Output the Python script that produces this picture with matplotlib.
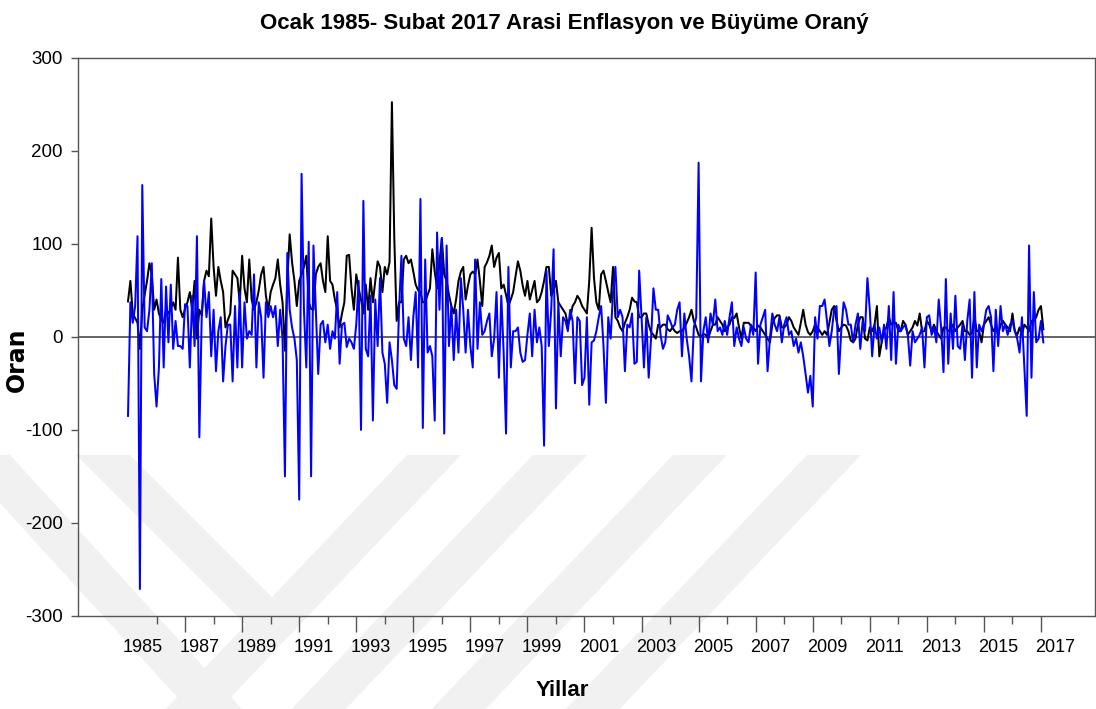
import numpy as np
import matplotlib
matplotlib.use("Agg")
import matplotlib.pyplot as plt
import matplotlib.transforms as mtransforms
from matplotlib.patches import Polygon

# ---------------- data (monthly, Jan 1985 - Feb 2017) ----------------
start_year = 1985
title = "Ocak 1985- Subat 2017 Arasi Enflasyon ve Büyüme Oraný"
xlabel = "Yillar"
ylabel = "Oran"
year_labels = list(range(1985, 2018, 2))
y_ticks = [-300, -200, -100, 0, 100, 200, 300]

# Enflasyon (black)
infl_a = [38, 60, 25, 20, 15, -13, 29, 45, 60, 79, 67, 29,
          40, 25, 18, 15, 29, 25, 30, 37, 29, 85, 29, 21,
          30, 37, 48, 29, 60, -2, 29, 23, 60, 71, 65, 127,
          75, 44, 75, 60, 48, 10, 18, 25, 71, 67, 63, 37,
          87, 52, 37, 83, 40, 29, 37, 50, 67, 75, 44, 29,
          48, 56, 63, 83]
infl_b = [56, 37, -15, 60, 110, 80, 60, 33, 60, 67, 75, 87,
          37, 30, 29, 67, 75, 79, 60, 48, 108, 60, 56, 40,
          29, 10, 25, 37, 87, 88, 52, 29, 67, 52, 40, 25,
          56, 29, 63, 37, 60, 81, 75, 48, 75, 67, 80, 252,
          106, 17, 37, 37, 83, 87, 79, 83, 70, 56, 50, 48,
          37, 37, 45, 52, 94, 70, 52, 80, 106, 67, 60, 45,
          33, 25, 40, 60, 70, 75, 40, 55, 67, 70, 67, 83]
infl_c = [60, 33, 75, 80, 87, 98, 75, 85, 90, 52, 56, 45,
          33, 40, 48, 65, 81, 71, 55, 44, 60, 40, 50, 60,
          37, 40, 48, 60, 75, 75, 44, 50, 60, 37, 33, 29,
          25, 13, 20, 33, 37, 44, 40, 33, 29, 25, 60, 117,
          63, 37, 29, 67, 71, 60, 48, 37, 75, 21, 17, 10,
          6, 15, 21, 29, 42, 38, 37, 21]
infl_d = [21, 25, 25, 13, 5, 2, -2, 13, 10, 13, 13, 8,
          6, 10, 6, 4, 6, 6, 10, 15, 21, 29, 17, 10,
          2, 0, 3, 2, -2, 6, 13, 13, 21, 17, 13, 6,
          10, 13, 21, 20, 25, 10, -2, 15, 15, 15, 12, 10,
          6, 12, 10, 6, 2, -2, -6, 13, 20, 23, 23, 10,
          10, 13, 21, 17, 10, 6, 2, 15, 29, 13, 5, 2,
          6, 13, 10, 6]
infl_e = [2, 6, 2, 15, 29, 33, 17, 6, 10, 13, 12, 6,
          -4, -6, -2, 13, 21, 21, -2, -4, 10, 6, 13, 33,
          -21, -6, 6, 10, 21, 13, 15, 15, 6, 6, 17, 13,
          2, 6, 10, 17, 12, 25, 6, 6, 17, 13, 6, 13,
          6, 2, -2, 10, 10, 6, 8, 13, 6, 10, 13, 17,
          6, 6, 2, 4, 21, 6, 6, -6, 13, 17, 21, 13,
          6, 10, 2, 13, 17, 13, 10, 6, 25, 6, 2, 10,
          2, 13, 10, 6, 17, 17, 21, 29, 33, 8]

# Buyume (blue)
grow_a = [-85, 37, 15, 33, 108, -271, 163, 10, 6, 29, 79, -40,
          -75, -33, 62, -33, 54, -6, 56, -13, 17, -10, -10, -13,
          35, 33, -33, 44, -10, 108, -108, 21, 60, 21, 48, -21,
          29, -37, 6, 21, -48, -10, 13, 13, -48, 33, -33, 48,
          -33, 37, -2, 6, 2, 67, -33, 37, 21, -44, 37, 21,
          33, 21, 33, -10]
grow_b = [29, -2, -150, 90, 29, 10, -2, -25, -175, 175, 29, -33,
          102, -150, 98, 29, -40, 13, 17, -6, 13, -13, 6, -2,
          48, -29, 13, 15, -11, -2, -6, -13, 13, 60, -100, 146,
          -13, -21, 44, -90, 40, -10, 63, -17, -29, -71, -6, -25,
          -52, -56, 29, 87, -2, -10, 21, -25, 21, 48, -33, 148,
          -98, 83, -17, -10, -21, -90, 112, 29, 106, -104, 98, -10,
          33, -25, 29, -17, 63, 29, -17, 29, -10, -33, 83, -13]
grow_c = [37, 2, 6, 17, 25, -21, -2, 48, -44, 44, -17, -104,
          75, -33, 6, 6, 10, -17, -27, -25, 2, 25, -21, 29,
          -6, 10, -10, -117, 71, -10, 29, 94, -77, 37, -21, 21,
          17, 6, 29, 17, -50, 21, 17, -52, -44, 21, -73, -6,
          -4, 6, 21, 33, -10, -71, 21, -2, 48, 75, 21, 29,
          21, -37, 13, 10, 25, -29, -27, 71]
grow_d = [21, -33, 21, -44, -2, 52, 29, 29, 2, -13, -6, 23,
          17, 10, 13, 29, 37, -21, 25, -2, -21, -48, 10, 21,
          187, -48, 6, 21, -6, 25, 13, 40, 6, 10, 2, 17,
          2, 21, 37, -10, 10, -2, -10, 10, -2, -6, 13, 2,
          69, -29, 13, 21, 29, -37, -2, 25, 13, 6, 21, -6,
          13, 21, 2, 6, -10, -2, -17, -6, -21, -40, -60, -42,
          -75, 21, -2, 33]
grow_e = [33, 40, 17, -10, 6, 29, 33, -40, 6, 37, 29, 13,
          13, -6, 13, 25, -13, 17, 6, 63, 29, -21, 13, -2,
          10, -6, 13, -13, 33, -25, 48, -29, 13, 6, 10, 13,
          2, -31, 6, -6, -2, 2, 10, -33, 21, 23, 2, 10,
          -6, 40, 10, -38, 62, -29, 25, -13, 44, -10, -13, 13,
          -25, 17, 40, -44, 48, -33, 13, 6, 13, 29, 33, 21,
          -37, 29, -10, 33, 6, 13, 2, 13, 17, 6, -2, -17,
          21, -33, -85, 98, -44, 48, -6, -2, 17, -6]

enflasyon = infl_a + infl_b + infl_c + infl_d + infl_e
buyume = grow_a + grow_b + grow_c + grow_d + grow_e

# ---------------- figure ----------------
plt.rcParams['axes.unicode_minus'] = False
narrow = ['Liberation Sans Narrow', 'Liberation Sans', 'DejaVu Sans']

W, H = 1096, 709
fig = plt.figure(figsize=(W / 100, H / 100), dpi=100)
fig.patch.set_facecolor('white')


def px(pts):
    return [(x / W, 1 - y / H) for x, y in pts]


# faint background watermark (decorative stripes)
wm_col = '#f1f1f1'
stripes = []
for xl in (407, 533, 673, 807):
    stripes.append([(xl, 455), (xl + 54, 455),
                    (xl + 54 - 0.95 * 254, 709), (xl - 0.95 * 254, 709)])
stripes.append([(76, 455), (130, 455), (300, 625), (246, 625)])
stripes.append([(-44, 455), (10, 455), (242, 709), (188, 709)])
for poly in stripes:
    fig.add_artist(Polygon(px(poly), closed=True, transform=fig.transFigure,
                           facecolor=wm_col, edgecolor='none', zorder=-5))

ax = fig.add_axes([78 / W, 1 - 616 / H, (1095 - 78) / W, (616 - 57.5) / H])
ax.set_facecolor('none')

t_inf = start_year + np.arange(len(enflasyon)) / 12.0
t_gr = start_year + np.arange(len(buyume)) / 12.0

ax.axhline(0, color='#3a3a3a', lw=1.1, zorder=1)
ax.plot(t_inf, enflasyon, color='black', lw=1.45, zorder=2)
ax.plot(t_gr, buyume, color='#0000ff', lw=1.45, zorder=3)

ax.set_xlim(1983.247, 2018.894)
ax.set_ylim(-300, 300)

frame_col = '#555555'
for s in ax.spines.values():
    s.set_color(frame_col)
    s.set_linewidth(1.0)

# y axis
ax.set_yticks(y_ticks)
ax.set_yticklabels([str(v) for v in y_ticks], family=narrow, fontsize=13.5)
ax.tick_params(axis='y', direction='out', length=5, width=1.0, color=frame_col, pad=6)

# x axis ticks: long at odd years, short at even years
ax.set_xticks([y for y in range(1987, 2018, 2)])
ax.set_xticks([y for y in range(1986, 2017, 2)], minor=True)
ax.tick_params(axis='x', which='major', direction='out', length=11.3, width=1.0,
               color=frame_col, labelbottom=False)
ax.tick_params(axis='x', which='minor', direction='out', length=5.8, width=1.0,
               color=frame_col, labelbottom=False)

trans = mtransforms.blended_transform_factory(ax.transData, ax.transAxes)
for yl in year_labels:
    ax.text(yl + 0.5, -0.0565, str(yl), transform=trans, ha='center', va='center',
            family=narrow, fontsize=13, clip_on=False)

fig.text(564 / W, 1 - 24 / H, title, ha='center', va='center',
         family=narrow, fontsize=16, fontweight='bold')
fig.text(562 / W, 1 - 690 / H, xlabel, ha='center', va='center',
         family=narrow, fontsize=16, fontweight='bold')
fig.text(17 / W, 1 - 360 / H, ylabel, ha='center', va='center', rotation=90,
         family=['DejaVu Sans'], fontsize=17, fontweight='bold')

fig.savefig('out.png', dpi=100, facecolor='white')
